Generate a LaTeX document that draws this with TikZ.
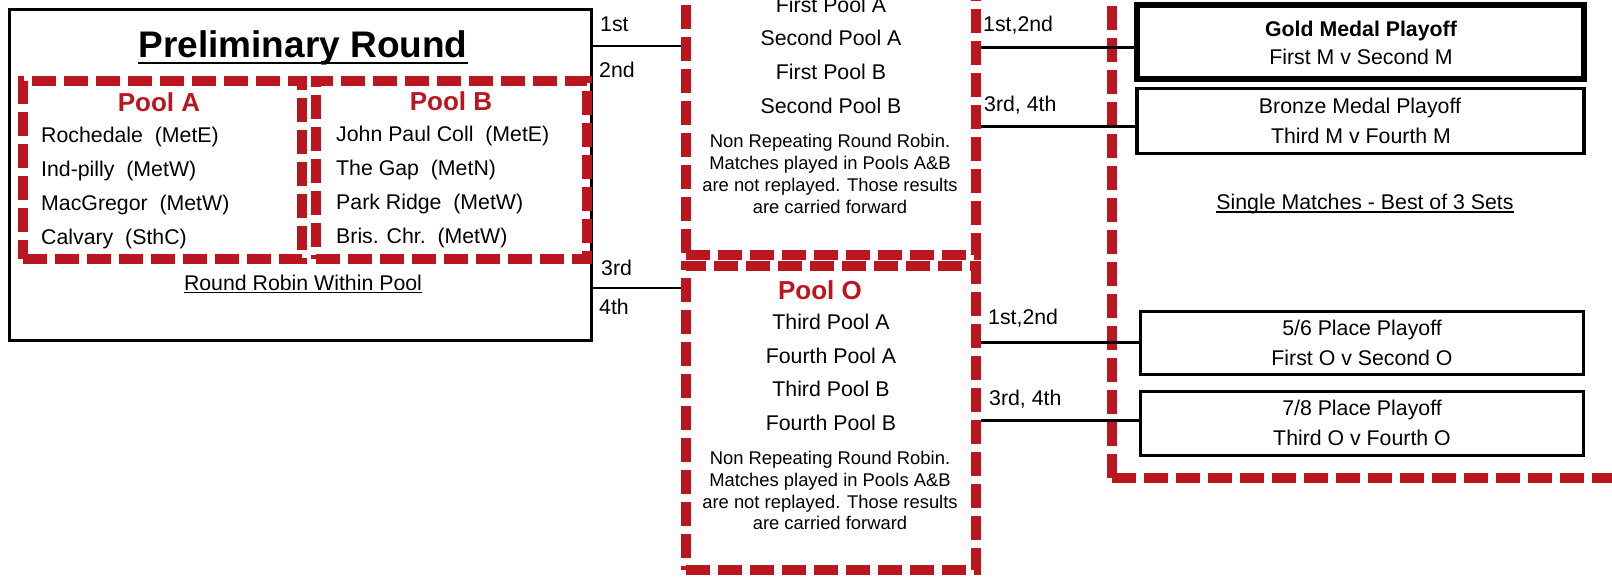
\documentclass[tikz,border=0pt]{standalone}
\usepackage{fontspec}
\setmainfont{Liberation Sans}
\definecolor{poolred}{RGB}{187,22,31}
\begin{document}
\begin{tikzpicture}[x=1pt,y=-1pt,
  box/.style={draw=black, line width=3pt, inner sep=0pt},
  pool/.style={draw=poolred, line width=10pt, dash pattern=on 24pt off 8pt, inner sep=0pt},
  txt/.style={inner sep=0pt, font=\fontsize{21.3}{25}\selectfont},
  boldtxt/.style={inner sep=0pt, font=\fontsize{21.3}{25}\selectfont\bfseries},
  note/.style={inner sep=0pt, font=\fontsize{18.4}{22}\selectfont},
  ptitle/.style={inner sep=0pt, text=poolred, font=\fontsize{26}{30}\selectfont\bfseries},
  conn/.style={draw=black, line width=3pt},
  thinconn/.style={draw=black, line width=1.3pt},
  ul/.style={draw=black, line width=1.3pt}]
\useasboundingbox (0,0) rectangle (1612,576);
\begin{scope}
\clip (0,0) rectangle (1612,576);
% Preliminary round box
\node[box, minimum width=582pt, minimum height=330.5pt] (prelim) at (300.5,174.75) {};
\node[inner sep=0pt, anchor=base, font=\fontsize{37}{42}\selectfont\bfseries] (title) at (303,57) {Preliminary Round};
\draw[line width=2.5pt] ([yshift=-6pt]title.base west) -- ([yshift=-6pt]title.base east);
% Pools A and B
\node[pool, minimum width=279pt, minimum height=178.5pt] (poolA) at (162.5,169.75) {};
\node[pool, minimum width=271.5pt, minimum height=178.5pt] (poolB) at (451.25,169.75) {};
\node[ptitle, anchor=base] (tA) at (159,111.5) {Pool A};
\node[ptitle, anchor=base] (tB) at (451,110.5) {Pool B};
\node[txt, anchor=base west] (a1) at (41,142.5) {Rochedale\ \ (MetE)};
\node[txt, anchor=base west] (a2) at (41,176.5) {Ind-pilly\ \ (MetW)};
\node[txt, anchor=base west] (a3) at (41,210.5) {MacGregor\ \ (MetW)};
\node[txt, anchor=base west] (a4) at (41,244.5) {Calvary\ \ (SthC)};
\node[txt, anchor=base west] (b1) at (336,141.5) {John Paul Coll\ \ (MetE)};
\node[txt, anchor=base west] (b2) at (336,175.5) {The Gap\ \ (MetN)};
\node[txt, anchor=base west] (b3) at (336,209.5) {Park Ridge\ \ (MetW)};
\node[txt, anchor=base west] (b4) at (336,243.5) {Bris. Chr.\ \ (MetW)};
\node[txt, anchor=base] (rr) at (303,290) {Round Robin Within Pool};
\draw[ul] ([yshift=-2.5pt]rr.base west) -- ([yshift=-2.5pt]rr.base east);
% Pool M and Pool O
\node[pool, minimum width=290pt, minimum height=315pt] (poolM) at (831,97.5) {};
\node[pool, minimum width=290pt, minimum height=304pt] (poolO) at (831,418) {};
\node[txt, anchor=base] (m1) at (831,12) {First Pool A};
\node[txt, anchor=base] (m2) at (831,45.5) {Second Pool A};
\node[txt, anchor=base] (m3) at (831,79.5) {First Pool B};
\node[txt, anchor=base] (m4) at (831,113.5) {Second Pool B};
\node[note, anchor=base] (mn1) at (830,147.5) {Non Repeating Round Robin.};
\node[note, anchor=base] (mn2) at (830,169.5) {Matches played in Pools A\&B};
\node[note, anchor=base] (mn3) at (830,191.5) {are not replayed. Those results};
\node[note, anchor=base] (mn4) at (830,213.5) {are carried forward};
\node[ptitle, anchor=base] (tO) at (820,299) {Pool O};
\node[txt, anchor=base] (o1) at (831,329.5) {Third Pool A};
\node[txt, anchor=base] (o2) at (831,363.5) {Fourth Pool A};
\node[txt, anchor=base] (o3) at (831,396.5) {Third Pool B};
\node[txt, anchor=base] (o4) at (831,430.5) {Fourth Pool B};
\node[note, anchor=base] (on1) at (830,464.5) {Non Repeating Round Robin.};
\node[note, anchor=base] (on2) at (830,486.5) {Matches played in Pools A\&B};
\node[note, anchor=base] (on3) at (830,508) {are not replayed. Those results};
\node[note, anchor=base] (on4) at (830,529.5) {are carried forward};
% Finals region
\node[pool, minimum width=530pt, minimum height=538pt] (finals) at (1377,209) {};
\node[draw=black, line width=6pt, inner sep=0pt, minimum width=447pt, minimum height=74pt] (gold) at (1360.5,41.5) {};
\node[draw=black, line width=3.5pt, inner sep=0pt, minimum width=447pt, minimum height=65pt] (bronze) at (1360.5,121) {};
\node[box, minimum width=443.5pt, minimum height=63pt] (p56) at (1362,342.5) {};
\node[box, minimum width=443.5pt, minimum height=64pt] (p78) at (1362,423) {};
\node[boldtxt, anchor=base] (g1) at (1361,36.5) {Gold Medal Playoff};
\node[txt, anchor=base] (g2) at (1361,64.5) {First M v Second M};
\node[txt, anchor=base] (br1) at (1360,113.5) {Bronze Medal Playoff};
\node[txt, anchor=base] (br2) at (1361,143.5) {Third M v Fourth M};
\node[txt, anchor=base] (s1) at (1362,335.5) {5/6 Place Playoff};
\node[txt, anchor=base] (s2) at (1362,365.5) {First O v Second O};
\node[txt, anchor=base] (e1) at (1362,415.5) {7/8 Place Playoff};
\node[txt, anchor=base] (e2) at (1362,445.5) {Third O v Fourth O};
\node[txt, anchor=base] (sm) at (1365,209.5) {Single Matches - Best of 3 Sets};
\draw[ul] ([yshift=-2.5pt]sm.base west) -- ([yshift=-2.5pt]sm.base east);
% Connectors
\draw[thinconn] (prelim.east |- 0,46) -- (poolM.west |- 0,46);
\draw[thinconn] (prelim.east |- 0,288) -- (poolO.west |- 0,288);
\draw[conn] (poolM.east |- 0,47) -- (gold.west |- 0,47);
\draw[conn] (poolM.east |- 0,126) -- (bronze.west |- 0,126);
\draw[conn] (poolO.east |- 0,342) -- (p56.west |- 0,342);
\draw[conn] (poolO.east |- 0,420) -- (p78.west |- 0,420);
% Connector labels
\node[txt, anchor=base west] (l1) at (600,31.5) {1st};
\node[txt, anchor=base west] (l2) at (599,77.5) {2nd};
\node[txt, anchor=base west] (l3) at (601,275.5) {3rd};
\node[txt, anchor=base west] (l4) at (599,314.5) {4th};
\node[txt, anchor=base west] (r1) at (983,31.5) {1st,2nd};
\node[txt, anchor=base west] (r2) at (984,111.5) {3rd, 4th};
\node[txt, anchor=base west] (r3) at (988,324.5) {1st,2nd};
\node[txt, anchor=base west] (r4) at (989,405.5) {3rd, 4th};
\end{scope}
\end{tikzpicture}
\end{document}
